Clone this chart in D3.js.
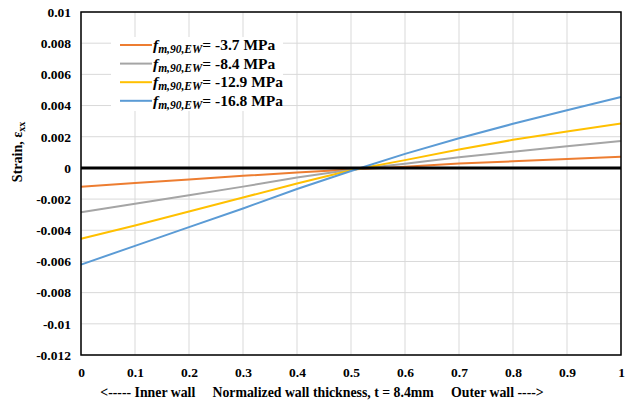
<!DOCTYPE html>
<html>
<head>
<meta charset="utf-8">
<script src="https://cdn.jsdelivr.net/npm/d3@7"></script>
<style>
  body { margin: 0; background: #fff; }
  svg text { font-family: "Liberation Serif", "Times New Roman", serif; font-weight: bold; fill: #000; }
</style>
</head>
<body>
<svg width="631" height="407"></svg>
<script>
// values
var tValues = [0, 0.1, 0.2, 0.3, 0.4, 0.5, 0.6, 0.7, 0.8, 0.9, 1];
var strain37 = [-0.00121, -0.00097, -0.00075, -0.00051, -0.00029, -0.00010, 0.00007, 0.00028, 0.00042, 0.00057, 0.00071];
var strain84 = [-0.00284, -0.00230, -0.00176, -0.00120, -0.00062, -0.00012, 0.00027, 0.00068, 0.00104, 0.00139, 0.00173];
var strain129 = [-0.00454, -0.00370, -0.00280, -0.00190, -0.00100, -0.00015, 0.00050, 0.00118, 0.00180, 0.00234, 0.00285];
var strain168 = [-0.00620, -0.00500, -0.00380, -0.00260, -0.00135, -0.00020, 0.00090, 0.00190, 0.00283, 0.00370, 0.00455];
var seriesLabels = ["-3.7 MPa", "-8.4 MPa", "-12.9 MPa", "-16.8 MPa"];
var xTicks = [0, 0.1, 0.2, 0.3, 0.4, 0.5, 0.6, 0.7, 0.8, 0.9, 1];
var yTicks = [0.01, 0.008, 0.006, 0.004, 0.002, 0, -0.002, -0.004, -0.006, -0.008, -0.01, -0.012];

var colors = ["#ED7D31", "#A5A5A5", "#FFC000", "#5B9BD5"];
var series = [strain37, strain84, strain129, strain168];

var svg = d3.select("svg"),
    margin = {top: 12, right: 10, bottom: 52, left: 81},
    width = 621 - margin.left,
    height = 355 - margin.top;

var x = d3.scaleLinear().domain([0, 1]).range([0, width]),
    y = d3.scaleLinear().domain([-0.012, 0.01]).range([height, 0]);

var g = svg.append("g")
  .attr("transform", "translate(" + margin.left + "," + margin.top + ")");

// grid
g.append("g").selectAll("line").data(yTicks).enter().append("line")
  .attr("x1", 0).attr("x2", width)
  .attr("y1", function(d) { return y(d); }).attr("y2", function(d) { return y(d); })
  .attr("stroke", "#d9d9d9").attr("stroke-width", 1);
g.append("g").selectAll("line").data(xTicks).enter().append("line")
  .attr("y1", 0).attr("y2", height)
  .attr("x1", function(d) { return x(d); }).attr("x2", function(d) { return x(d); })
  .attr("stroke", "#d9d9d9").attr("stroke-width", 1);

// axes
var xAxis = g.append("g")
  .attr("transform", "translate(0," + height + ")")
  .call(d3.axisBottom(x).tickValues(xTicks).tickSize(0).tickPadding(12)
    .tickFormat(function(d) { return d === 0 || d === 1 ? d : d3.format(".1f")(d); }));
xAxis.select(".domain").remove();
xAxis.selectAll("text").attr("font-size", 13.5);

var yAxis = g.append("g")
  .call(d3.axisLeft(y).tickValues(yTicks).tickSize(0).tickPadding(10)
    .tickFormat(function(d) { return d === 0 ? "0" : String(+d.toFixed(3)); }));
yAxis.select(".domain").remove();
yAxis.selectAll("text").attr("font-size", 13.5);

// legend box (hides grid behind)
var legend = g.append("g").attr("transform", "translate(30,25)");
legend.append("rect").attr("x", 0).attr("y", 0).attr("width", 172).attr("height", 74).attr("fill", "#fff");

// lines
var line = d3.line()
  .x(function(d, i) { return x(tValues[i]); })
  .y(function(d) { return y(d); });

series.forEach(function(s, k) {
  g.append("path").datum(s)
    .attr("fill", "none")
    .attr("stroke", colors[k])
    .attr("stroke-width", 2)
    .attr("d", line);
});

// zero line
g.append("line")
  .attr("x1", 0).attr("x2", width)
  .attr("y1", y(0)).attr("y2", y(0))
  .attr("stroke", "#000").attr("stroke-width", 3);

// plot border
g.append("rect")
  .attr("width", width).attr("height", height)
  .attr("fill", "none").attr("stroke", "#000").attr("stroke-width", 1.5);

// legend entries
seriesLabels.forEach(function(lbl, k) {
  var ly = 8 + k * 18.6;
  legend.append("line")
    .attr("x1", 9).attr("x2", 41).attr("y1", ly).attr("y2", ly)
    .attr("stroke", colors[k]).attr("stroke-width", 2);
  var t = legend.append("text").attr("x", 42).attr("y", ly + 5).attr("font-size", 15.5);
  t.append("tspan").attr("font-style", "italic").text("f");
  t.append("tspan").attr("font-style", "italic").attr("font-size", 11.5).attr("dy", 3).text("m,90,EW");
  t.append("tspan").attr("dy", -3).text("= " + lbl);
});

// axis titles
svg.append("text")
  .attr("x", 322).attr("y", 397)
  .attr("text-anchor", "middle")
  .attr("font-size", 13.8)
  .style("white-space", "pre")
  .text("<----- Inner wall     Normalized wall thickness, t = 8.4mm     Outer wall ---->");

var yt = svg.append("text")
  .attr("transform", "translate(22,152) rotate(-90)")
  .attr("text-anchor", "middle")
  .attr("font-size", 14);
yt.append("tspan").text("Strain, \u03b5");
yt.append("tspan").attr("font-size", 10).attr("dy", 3).text("xx");
</script>
</body>
</html>
